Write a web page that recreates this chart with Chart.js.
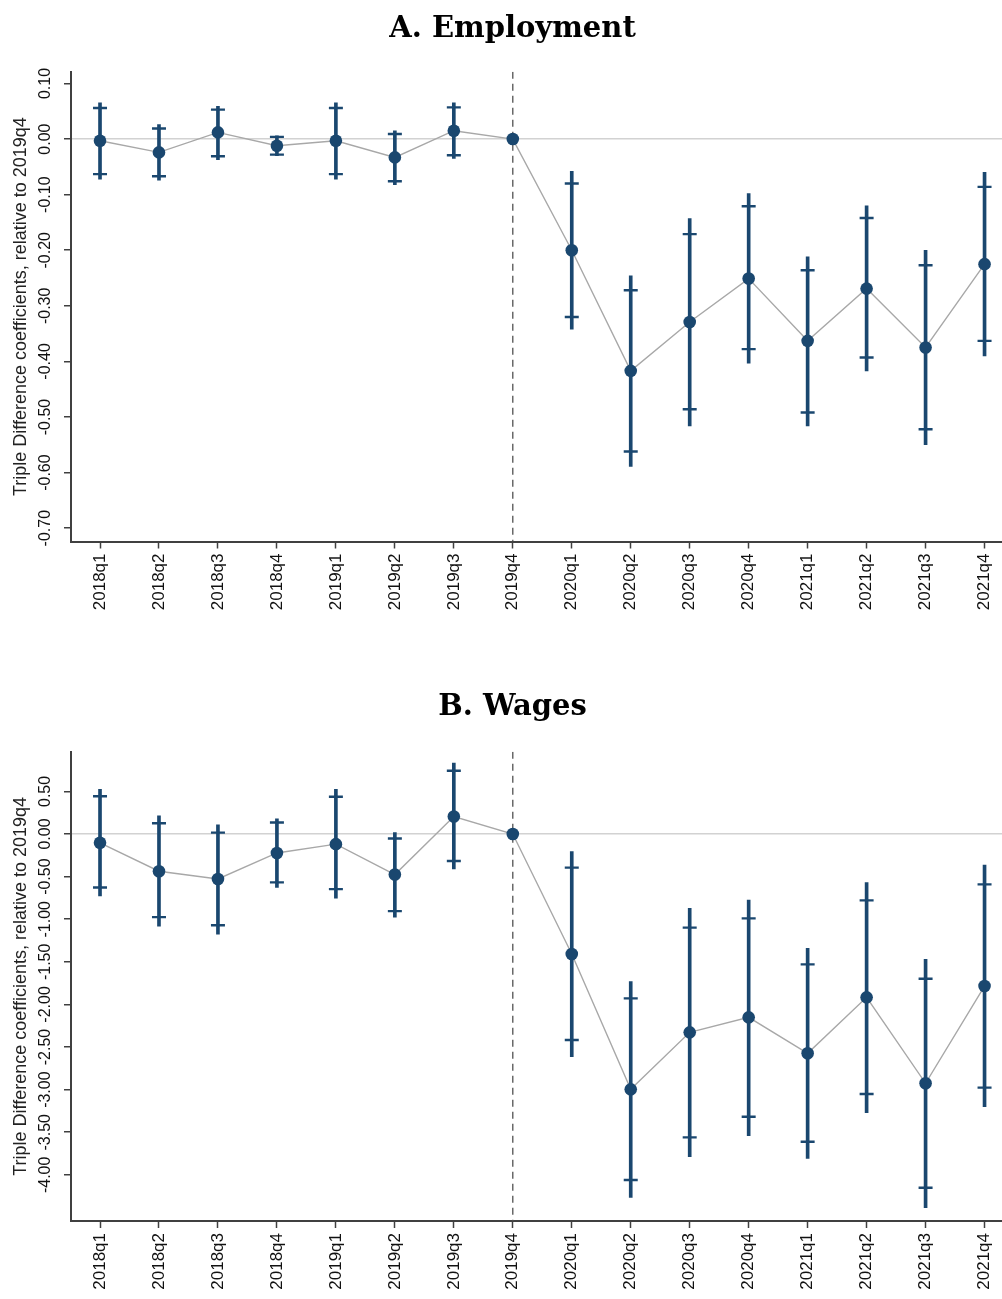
<!DOCTYPE html>
<html><head><meta charset="utf-8">
<script src="https://cdn.jsdelivr.net/npm/chart.js@4.4.1/dist/chart.umd.min.js"></script>
<style>
html,body{margin:0;padding:0;background:#fff;overflow:hidden;}
#wrap{position:relative;width:1002px;height:1299px;overflow:hidden;background:#fff;}
canvas{position:absolute;left:0;}
.ttl{position:absolute;left:0;width:1025px;text-align:center;font-family:'DejaVu Serif',serif;font-weight:bold;font-size:29px;line-height:40px;height:40px;color:#000;white-space:nowrap;}
</style></head><body>
<div id="wrap">
<canvas id="cA" width="1002" height="650" style="top:0px"></canvas>
<canvas id="cB" width="1002" height="649" style="top:650px"></canvas>
<div class="ttl" style="top:7px">A. Employment</div>
<div class="ttl" style="top:685px">B. Wages</div>
</div>
<script>
// ---------- data ----------
const categories = ['2018q1','2018q2','2018q3','2018q4','2019q1','2019q2','2019q3','2019q4',
                    '2020q1','2020q2','2020q3','2020q4','2021q1','2021q2','2021q3','2021q4'];
const refPeriod = '2019q4';
const yAxisTitle = 'Triple Difference coefficients, relative to 2019q4';

// A. Employment
const empCoef  = [-0.003,-0.024, 0.012,-0.012,-0.003,-0.033, 0.015, 0,-0.200,-0.417,-0.329,-0.251,-0.363,-0.269,-0.375,-0.225];
const empCapHi = [ 0.056, 0.019, 0.053, 0.004, 0.056, 0.009, 0.057, null,-0.080,-0.272,-0.171,-0.121,-0.236,-0.142,-0.227,-0.086];
const empCapLo = [-0.063,-0.067,-0.031,-0.028,-0.063,-0.076,-0.029, null,-0.320,-0.562,-0.486,-0.378,-0.492,-0.393,-0.522,-0.363];
const empBarHi = [ 0.065, 0.026, 0.059, 0.006, 0.065, 0.015, 0.065, null,-0.058,-0.246,-0.143,-0.098,-0.212,-0.120,-0.200,-0.060];
const empBarLo = [-0.072,-0.074,-0.037,-0.030,-0.072,-0.082,-0.035, null,-0.342,-0.589,-0.516,-0.403,-0.516,-0.417,-0.550,-0.390];
const empYTicks = ['0.10','0.00','-0.10','-0.20','-0.30','-0.40','-0.50','-0.60','-0.70'];

// B. Wages
const wageCoef  = [-0.103,-0.437,-0.528,-0.222,-0.119,-0.476, 0.206, 0,-1.408,-2.997,-2.328,-2.152,-2.574,-1.917,-2.926,-1.784];
const wageCapHi = [ 0.444, 0.127, 0.016, 0.135, 0.437,-0.052, 0.742, null,-0.395,-1.929,-1.099,-0.990,-1.530,-0.779,-1.698,-0.591];
const wageCapLo = [-0.627,-0.976,-1.071,-0.567,-0.647,-0.905,-0.317, null,-2.418,-4.061,-3.560,-3.318,-3.611,-3.052,-4.151,-2.977];
const wageBarHi = [ 0.524, 0.214, 0.107, 0.179, 0.524, 0.016, 0.833, null,-0.207,-1.733,-0.872,-0.775,-1.342,-0.571,-1.471,-0.364];
const wageBarLo = [-0.726,-1.083,-1.175,-0.627,-0.754,-0.976,-0.409, null,-2.613,-4.264,-3.787,-3.541,-3.807,-3.271,-4.386,-3.200];
const wageYTicks = ['0.50','0.00','-0.50','-1.00','-1.50','-2.00','-2.50','-3.00','-3.50','-4.00'];

// ---------- style ----------
const NAVY = '#1a476f';
const AXIS = '#404040';
const FONT = "'Liberation Sans', Arial, sans-serif";
const X_MIN = -0.492, X_MAX = 15.296;

function buildChart(id, o) {
  const ref = categories.indexOf(refPeriod);
  const pts = o.coef.map((v, i) => ({x: i, y: v}));
  const bars = [], caps = [];
  o.coef.forEach((v, i) => {
    if (o.barLo[i] !== null) {
      bars.push({x: i, y: [o.barLo[i], o.barHi[i]]});
      caps.push({x: i, y: o.capLo[i]}, {x: i, y: o.capHi[i]});
    }
  });
  const yVals = o.yTicks.map(Number);
  return new Chart(document.getElementById(id), {
    type: 'line',
    data: { datasets: [
      {type: 'line', data: [{x: ref, y: o.yMax}, {x: ref, y: o.yMin}], borderColor: '#505050',
       borderWidth: 1.3, borderDash: [7, 5], pointRadius: 0, order: 10},
      {type: 'line', data: pts, borderColor: '#a8a8a8', borderWidth: 1.4, pointRadius: 0, tension: 0, order: 8},
      {type: 'bar', data: bars, backgroundColor: NAVY, borderWidth: 0, barThickness: 3, order: 6},
      {type: 'scatter', data: caps, pointStyle: 'line', pointRadius: 7, pointBorderColor: NAVY,
       pointBorderWidth: 2.4, order: 4},
      {type: 'scatter', data: pts, pointRadius: 6.3, pointBackgroundColor: NAVY, pointBorderColor: NAVY,
       pointBorderWidth: 0, order: 1}
    ]},
    options: {
      responsive: false, animation: false, events: [],
      layout: {padding: {top: o.padTop, left: 0, right: 0, bottom: 0}, autoPadding: false},
      plugins: {legend: {display: false}, tooltip: {enabled: false}, title: {display: false}},
      scales: {
        x: {
          type: 'linear', min: X_MIN, max: X_MAX, offset: false,
          afterBuildTicks: s => { s.ticks = categories.map((c, i) => ({value: i})); },
          afterFit: s => { s.height = o.xAxisH; s.paddingLeft = 0; s.paddingRight = 0; },
          ticks: {autoSkip: false, minRotation: 90, maxRotation: 90, padding: 5, color: '#111',
                  font: {family: FONT, size: 17}, callback: v => categories[v] ?? ''},
          grid: {offset: false, drawOnChartArea: false, drawTicks: true, tickLength: 7, tickWidth: 1.5, tickColor: AXIS},
          border: {display: true, color: AXIS, width: 2}
        },
        y: {
          type: 'linear', min: o.yMin, max: o.yMax, beginAtZero: false,
          afterBuildTicks: s => { s.ticks = yVals.map(v => ({value: v})); },
          afterFit: s => { s.width = 71; s.paddingTop = 0; s.paddingBottom = 0; },
          ticks: {autoSkip: false, minRotation: 90, maxRotation: 90, crossAlign: 'center', padding: 0,
                  color: '#111', font: {family: FONT, size: 16},
                  callback: v => { const k = yVals.findIndex(t => Math.abs(t - v) < 1e-9); return k >= 0 ? o.yTicks[k] : ''; }},
          grid: {offset: false, color: c => (c.tick && Math.abs(c.tick.value) < 1e-9) ? '#d2d2d2' : 'rgba(0,0,0,0)',
                 lineWidth: 1.5, drawTicks: true, tickLength: 7, tickWidth: 1.5, tickColor: AXIS},
          border: {display: true, color: AXIS, width: 2},
          title: {display: true, text: yAxisTitle, color: '#222', font: {family: FONT, size: 18},
                  padding: {top: 10, bottom: 0}}
        }
      }
    }
  });
}

buildChart('cA', {coef: empCoef, capHi: empCapHi, capLo: empCapLo, barHi: empBarHi, barLo: empBarLo,
                  yTicks: empYTicks, yMin: -0.724, yMax: 0.121, padTop: 71.8, xAxisH: 108.5});
buildChart('cB', {coef: wageCoef, capHi: wageCapHi, capLo: wageCapLo, barHi: wageBarHi, barLo: wageBarLo,
                  yTicks: wageYTicks, yMin: -4.542, yMax: 0.965, padTop: 101.8, xAxisH: 78});
</script>
</body></html>
